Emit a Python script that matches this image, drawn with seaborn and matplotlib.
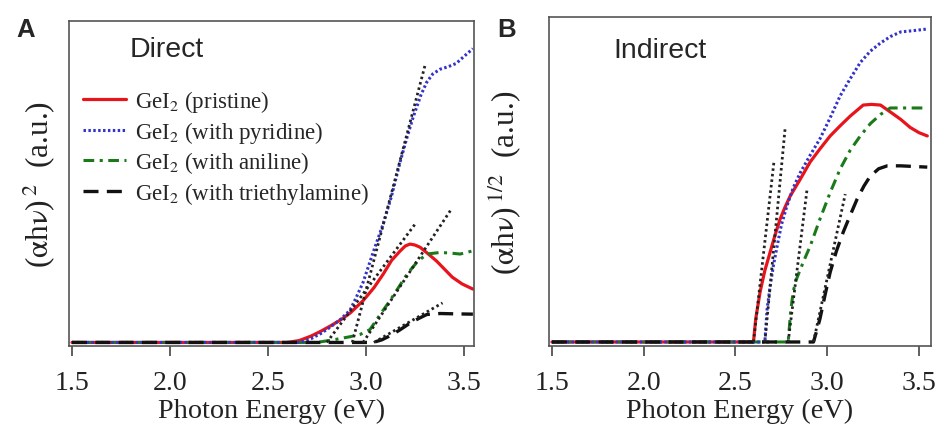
import numpy as np
import pandas as pd
import matplotlib
matplotlib.use("Agg")
import matplotlib.pyplot as plt
import seaborn as sns

# ---- Direct gap, (ahv)^2, arbitrary units ----
dir_E_pristine = [1.5, 2.60, 2.66, 2.72, 2.77, 2.82, 2.87, 2.92, 2.985, 3.04, 3.088, 3.13, 3.173,
                  3.20, 3.224, 3.25, 3.276, 3.32, 3.36, 3.40, 3.44, 3.49, 3.545]
dir_pristine = [0, 0, 0.006, 0.02, 0.035, 0.052, 0.07, 0.092, 0.13, 0.17, 0.213, 0.255, 0.284,
                0.300, 0.306, 0.303, 0.296, 0.274, 0.253, 0.228, 0.203, 0.182, 0.166]

dir_E_pyridine = [1.5, 2.66, 2.72, 2.77, 2.816, 2.87, 2.918, 2.95, 2.985, 3.036, 3.088, 3.13, 3.173,
                  3.21, 3.24, 3.28, 3.31, 3.34, 3.378, 3.42, 3.46, 3.50, 3.545]
dir_pyridine = [0, 0, 0.012, 0.028, 0.047, 0.072, 0.10, 0.14, 0.187, 0.28, 0.37, 0.455, 0.56,
                0.64, 0.70, 0.77, 0.81, 0.835, 0.85, 0.858, 0.868, 0.89, 0.914]

dir_E_aniline = [1.5, 2.75, 2.85, 2.92, 2.97, 3.02, 3.07, 3.122, 3.17, 3.21, 3.26, 3.31, 3.378,
                 3.43, 3.48, 3.545]
dir_aniline = [0, 0, 0.01, 0.018, 0.025, 0.04, 0.085, 0.13, 0.175, 0.213, 0.25, 0.275, 0.28,
               0.278, 0.275, 0.285]

dir_E_triethyl = [1.5, 3.036, 3.08, 3.12, 3.17, 3.224, 3.27, 3.31, 3.378, 3.45, 3.545]
dir_triethyl = [0, 0, 0.008, 0.02, 0.038, 0.06, 0.075, 0.087, 0.09, 0.089, 0.088]

dir_tangents = {
    "pristine": ([2.80, 3.25], [0, 0.368]),
    "pyridine": ([2.93, 3.30], [0, 0.86]),
    "aniline": ([2.985, 3.43], [0, 0.41]),
    "triethyl": ([3.04, 3.39], [0, 0.123]),
}

# ---- Indirect gap, (ahv)^(1/2), arbitrary units ----
ind_E_pristine = [1.5, 2.598, 2.61, 2.634, 2.66, 2.689, 2.716, 2.743, 2.77, 2.798, 2.852, 2.907,
                  2.96, 3.016, 3.07, 3.125, 3.196, 3.24, 3.29, 3.343, 3.40, 3.452, 3.50, 3.545]
ind_pristine = [0, 0, 0.07, 0.154, 0.22, 0.277, 0.33, 0.378, 0.415, 0.449, 0.50, 0.554,
                0.594, 0.634, 0.665, 0.695, 0.729, 0.731, 0.729, 0.708, 0.685, 0.66, 0.644, 0.634]

ind_E_pyridine = [1.5, 2.66, 2.672, 2.689, 2.708, 2.727, 2.75, 2.78, 2.815, 2.852, 2.907, 2.96,
                  3.016, 3.07, 3.125, 3.18, 3.235, 3.29, 3.345, 3.40, 3.47, 3.545]
ind_pyridine = [0, 0, 0.1, 0.172, 0.24, 0.295, 0.36, 0.418, 0.475, 0.52, 0.575, 0.625,
                0.69, 0.757, 0.81, 0.86, 0.895, 0.92, 0.94, 0.954, 0.958, 0.963]

ind_E_aniline = [1.5, 2.787, 2.80, 2.814, 2.83, 2.852, 2.88, 2.907, 2.96, 3.016, 3.07, 3.125,
                 3.18, 3.235, 3.29, 3.343, 3.45, 3.545]
ind_aniline = [0, 0, 0.09, 0.154, 0.19, 0.222, 0.26, 0.295, 0.378, 0.46, 0.532, 0.59,
               0.634, 0.672, 0.70, 0.72, 0.72, 0.72]

ind_E_triethyl = [1.5, 2.925, 2.94, 2.96, 2.99, 3.016, 3.05, 3.087, 3.125, 3.163, 3.2, 3.234,
                  3.28, 3.327, 3.40, 3.545]
ind_triethyl = [0, 0, 0.03, 0.071, 0.15, 0.215, 0.28, 0.338, 0.39, 0.44, 0.48, 0.51,
                0.533, 0.542, 0.542, 0.538]

ind_tangents = {
    "pristine": ([2.598, 2.71], [0, 0.557]),
    "pyridine": ([2.66, 2.77], [0, 0.655]),
    "aniline": ([2.787, 2.89], [0, 0.47]),
    "triethyl": ([2.925, 3.098], [0, 0.455]),
}

xticks = [1.5, 2.0, 2.5, 3.0, 3.5]
labels = {
    "pristine": "GeI$_{2}$ (pristine)",
    "pyridine": "GeI$_{2}$ (with pyridine)",
    "aniline": "GeI$_{2}$ (with aniline)",
    "triethyl": "GeI$_{2}$ (with triethylamine)",
}

styles = {
    "pristine": dict(color="#e8141c", linestyle="-", linewidth=2.3),
    "pyridine": dict(color="#3333cc", linestyle=(0, (0.8, 0.8)), linewidth=2.2),
    "aniline": dict(color="#1a7a1a", linestyle=(0, (3.5, 1.8, 1, 1.8)), linewidth=2.2),
    "triethyl": dict(color="#111111", linestyle=(0, (4.5, 2.5)), linewidth=2.4),
}

sns.set_style("white")
plt.rcParams["font.family"] = ["Liberation Serif", "DejaVu Serif"]
plt.rcParams["mathtext.fontset"] = "stix"

fig = plt.figure(figsize=(9.38, 4.27), dpi=100)
axA = fig.add_axes([0.0736, 0.1874, 0.4318, 0.7611])
axB = fig.add_axes([0.5853, 0.1874, 0.4072, 0.7705])

direct = {
    "pristine": (dir_E_pristine, dir_pristine),
    "pyridine": (dir_E_pyridine, dir_pyridine),
    "aniline": (dir_E_aniline, dir_aniline),
    "triethyl": (dir_E_triethyl, dir_triethyl),
}
indirect = {
    "pristine": (ind_E_pristine, ind_pristine),
    "pyridine": (ind_E_pyridine, ind_pyridine),
    "aniline": (ind_E_aniline, ind_aniline),
    "triethyl": (ind_E_triethyl, ind_triethyl),
}

for ax, curves, tangents in [(axA, direct, dir_tangents), (axB, indirect, ind_tangents)]:
    for key in ["pristine", "aniline", "pyridine", "triethyl"]:
        E, y = curves[key]
        df = pd.DataFrame({"E": E, "y": y})
        sns.lineplot(data=df, x="E", y="y", ax=ax, label=labels[key], **styles[key])
    for key, (tE, ty) in tangents.items():
        sns.lineplot(x=tE, y=ty, ax=ax, color="#222222", linestyle=(0, (0.9, 1.1)),
                     linewidth=2.0, legend=False)

axA.set_xlim(1.485, 3.551)
axA.set_ylim(-0.011, 1.0)
axB.set_xlim(1.484, 3.565)
axB.set_ylim(-0.0123, 1.0)

for ax in (axA, axB):
    ax.set_xticks(xticks)
    ax.set_xticklabels([f"{t:.1f}" for t in xticks])
    ax.set_yticks([])
    ax.tick_params(axis="x", direction="out", length=7, width=1.2, color="#444444",
                   labelsize=20, labelcolor="#222222", pad=10, bottom=True)
    for s in ax.spines.values():
        s.set_color("#555555")
        s.set_linewidth(1.2)
    ax.set_xlabel("Photon Energy (eV)", fontsize=20.3, color="#222222", labelpad=2)

axA.set_ylabel(r"($\mathrm{\alpha}$h$\mathrm{\nu}$)$^{\;2}$  (a.u.)", fontsize=22.5,
               color="#222222", labelpad=9)
axB.set_ylabel(r"($\mathrm{\alpha}$h$\mathrm{\nu}$)$^{\;1/2}$  (a.u.)", fontsize=22.5,
               color="#222222", labelpad=18)

# legend only in panel A, in original order
handles, labs = axA.get_legend_handles_labels()
order = [labs.index(labels[k]) for k in ["pristine", "pyridine", "aniline", "triethyl"]]
axA.legend([handles[i] for i in order], [labs[i] for i in order], loc="upper left",
           bbox_to_anchor=(0.0, 0.835), frameon=False, fontsize=16.5, handlelength=1.9,
           handletextpad=0.4, labelspacing=0.2, borderaxespad=0.2)
axB.get_legend().remove()

axA.text(0.15, 0.915, "Direct", transform=axA.transAxes, fontsize=20.5,
         family=["Liberation Sans", "DejaVu Sans"], va="center", ha="left")
axB.text(0.168, 0.90, "Indirect", transform=axB.transAxes, fontsize=20.5,
         family=["Liberation Sans", "DejaVu Sans"], va="center", ha="left")

fig.text(0.017, 0.957, "A", fontsize=18.5, fontweight="bold",
         family=["Liberation Sans", "DejaVu Sans"], va="top", ha="left")
fig.text(0.530, 0.957, "B", fontsize=18.5, fontweight="bold",
         family=["Liberation Sans", "DejaVu Sans"], va="top", ha="left")

fig.savefig("out.png", dpi=100)
